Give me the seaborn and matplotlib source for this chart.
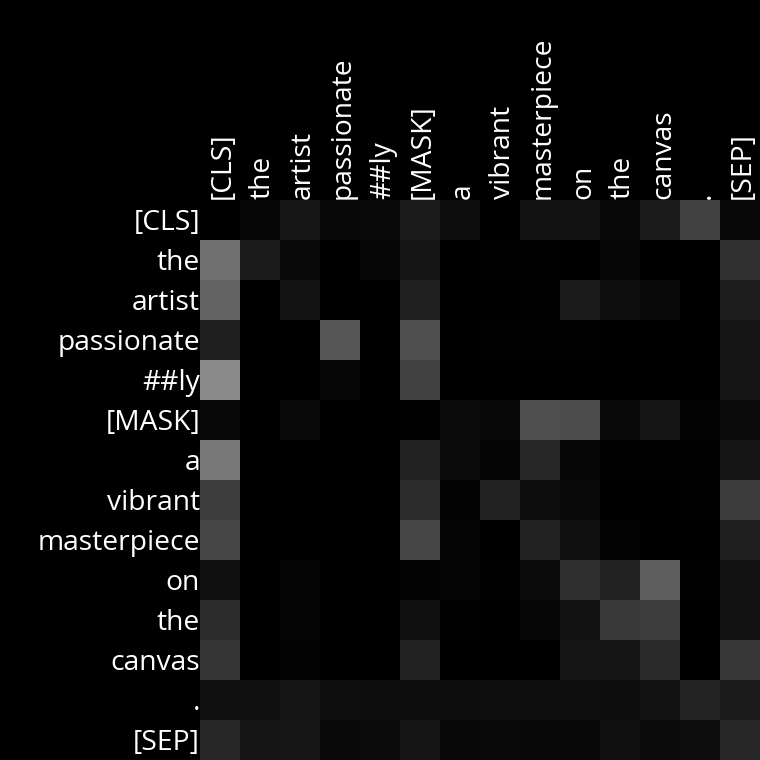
import numpy as np
import pandas as pd
import matplotlib
matplotlib.use("Agg")
import matplotlib.pyplot as plt
import matplotlib.transforms as mtransforms
import seaborn as sns

tokens = ["[CLS]", "the", "artist", "passionate", "##ly", "[MASK]", "a", "vibrant",
          "masterpiece", "on", "the", "canvas", ".", "[SEP]"]

# attention weights (rows = query token, cols = key token)
row_cls         = [0x00, 0x06, 0x17, 0x08, 0x0a, 0x1c, 0x0c, 0x00, 0x12, 0x12, 0x08, 0x1c, 0x40, 0x08]
row_the1        = [0x70, 0x1b, 0x0a, 0x00, 0x06, 0x14, 0x00, 0x01, 0x01, 0x00, 0x06, 0x00, 0x00, 0x30]
row_artist      = [0x63, 0x00, 0x13, 0x00, 0x00, 0x20, 0x00, 0x00, 0x01, 0x1c, 0x0f, 0x09, 0x00, 0x1d]
row_passionate  = [0x1e, 0x00, 0x00, 0x55, 0x00, 0x50, 0x00, 0x01, 0x01, 0x02, 0x00, 0x00, 0x00, 0x15]
row_ly          = [0x8a, 0x00, 0x00, 0x06, 0x00, 0x40, 0x00, 0x00, 0x00, 0x00, 0x00, 0x00, 0x00, 0x14]
row_mask        = [0x07, 0x00, 0x09, 0x00, 0x00, 0x02, 0x0b, 0x08, 0x4f, 0x4c, 0x09, 0x14, 0x03, 0x0b]
row_a           = [0x78, 0x00, 0x00, 0x00, 0x00, 0x21, 0x0b, 0x04, 0x26, 0x06, 0x02, 0x01, 0x01, 0x14]
row_vibrant     = [0x3e, 0x00, 0x00, 0x00, 0x00, 0x2c, 0x03, 0x22, 0x0c, 0x0a, 0x00, 0x00, 0x02, 0x3c]
row_masterpiece = [0x45, 0x00, 0x00, 0x00, 0x00, 0x45, 0x05, 0x00, 0x22, 0x10, 0x03, 0x00, 0x00, 0x1f]
row_on          = [0x10, 0x00, 0x04, 0x00, 0x00, 0x03, 0x05, 0x01, 0x0b, 0x2e, 0x21, 0x5e, 0x02, 0x11]
row_the2        = [0x2c, 0x00, 0x05, 0x00, 0x00, 0x10, 0x01, 0x00, 0x06, 0x12, 0x38, 0x3e, 0x00, 0x11]
row_canvas      = [0x36, 0x00, 0x03, 0x00, 0x00, 0x22, 0x00, 0x00, 0x00, 0x14, 0x14, 0x2a, 0x00, 0x37]
row_period      = [0x10, 0x10, 0x15, 0x0e, 0x0c, 0x0d, 0x0c, 0x0f, 0x0f, 0x0f, 0x0d, 0x12, 0x23, 0x1b]
row_sep         = [0x27, 0x14, 0x17, 0x09, 0x0b, 0x15, 0x08, 0x09, 0x08, 0x08, 0x10, 0x0b, 0x0d, 0x27]

rows = [row_cls, row_the1, row_artist, row_passionate, row_ly, row_mask, row_a,
        row_vibrant, row_masterpiece, row_on, row_the2, row_canvas, row_period, row_sep]
attn = np.array(rows, dtype=float) / 255.0

plt.rcParams['font.family'] = ['Open Sans', 'DejaVu Sans']

fig = plt.figure(figsize=(7.6, 7.6), dpi=100, facecolor='black')
ax = fig.add_axes([200/760, 0, 560/760, 560/760])
ax.set_facecolor('black')
sns.heatmap(attn, ax=ax, cmap='gray', vmin=0, vmax=1, cbar=False,
            xticklabels=tokens, yticklabels=tokens, square=False)
ax.xaxis.tick_top()
ax.tick_params(axis='both', length=0, colors='white', labelsize=20.3, pad=0)
shift_y = mtransforms.ScaledTranslation(0, -3/100, fig.dpi_scale_trans)
shift_x = mtransforms.ScaledTranslation(3/100, 1/100, fig.dpi_scale_trans)
for lab in ax.get_xticklabels():
    lab.set_rotation(90)
    lab.set_color('white')
    lab.set_transform(lab.get_transform() + shift_x)
for lab in ax.get_yticklabels():
    lab.set_rotation(0)
    lab.set_color('white')
    lab.set_transform(lab.get_transform() + shift_y)
fig.savefig('out.png', dpi=100, facecolor='black')
